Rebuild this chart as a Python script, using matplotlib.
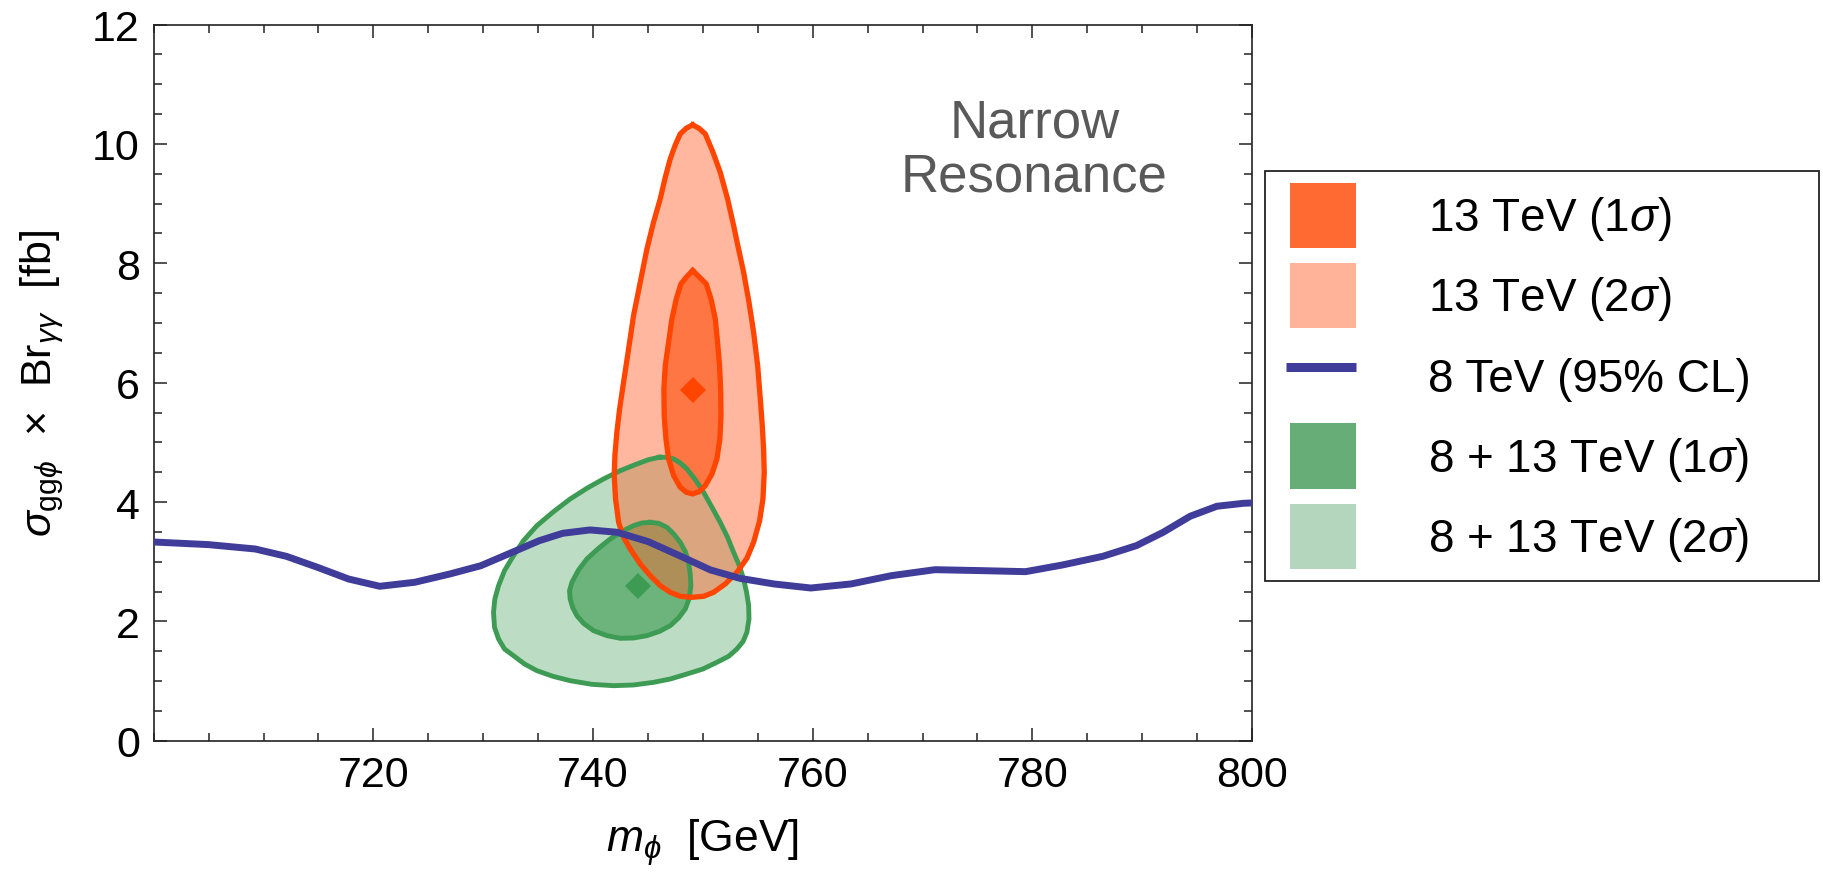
import matplotlib
matplotlib.use("Agg")
import matplotlib.pyplot as plt
from matplotlib.patches import Patch
from matplotlib.lines import Line2D
from matplotlib.legend_handler import HandlerPatch, HandlerLine2D
from matplotlib.ticker import MultipleLocator

plt.rcParams['font.family'] = ['Liberation Sans', 'DejaVu Sans']
plt.rcParams['mathtext.fontset'] = 'custom'
plt.rcParams['mathtext.rm'] = 'Liberation Sans'
plt.rcParams['mathtext.it'] = 'Liberation Sans:italic'
plt.rcParams['mathtext.bf'] = 'Liberation Sans:bold'

# 8 TeV 95% CL limit
lim_m = [700.0, 704.99, 709.24, 712.08, 714.91, 717.74, 720.58, 723.77, 726.96, 729.79,
         732.28, 735.11, 737.24, 739.72, 742.20, 745.03, 747.87, 750.70, 753.40, 756.47,
         759.83, 763.49, 767.16, 771.13, 775.41, 779.38, 782.74, 786.41, 789.47, 791.91,
         794.36, 796.80, 799.25, 800.0]
lim_s = [3.33, 3.286, 3.213, 3.090, 2.906, 2.710, 2.588, 2.655, 2.794, 2.933,
         3.129, 3.352, 3.476, 3.532, 3.493, 3.336, 3.101, 2.861, 2.72, 2.627,
         2.559, 2.627, 2.766, 2.866, 2.850, 2.833, 2.945, 3.090, 3.269, 3.493,
         3.761, 3.929, 3.979, 3.984]

# 13 TeV contours
o2_m = [749.07, 748.49, 747.94, 747.49, 747.03, 746.58, 746.12, 745.51, 744.91, 744.30,
        743.69, 743.24, 742.78, 742.42, 742.17, 741.99, 741.93, 742.05, 742.33, 742.78,
        743.39, 744.30, 745.21, 746.12, 747.03, 747.94, 749.00, 750.07, 750.98, 752.04,
        753.10, 754.01, 754.62, 755.17, 755.47, 755.59, 755.53, 755.41, 755.23, 754.99,
        754.62, 754.20, 753.71, 753.25, 752.80, 752.25, 751.58, 750.92, 750.22, 749.64]
o2_s = [10.320, 10.264, 10.169, 9.985, 9.750, 9.443, 9.080, 8.689, 8.242, 7.683,
        7.124, 6.566, 6.007, 5.560, 5.169, 4.778, 4.443, 4.051, 3.660, 3.409,
        3.213, 2.962, 2.766, 2.599, 2.487, 2.420, 2.403, 2.420, 2.487, 2.627,
        2.822, 3.057, 3.325, 3.688, 4.051, 4.498, 4.889, 5.281, 5.728, 6.286,
        6.845, 7.348, 7.851, 8.242, 8.633, 9.080, 9.527, 9.862, 10.169, 10.264]
o1_m = [749.07, 748.49, 748.00, 747.58, 747.18, 746.88, 746.58, 746.45, 746.48, 746.64,
        746.88, 747.34, 747.94, 748.49, 749.07, 749.67, 750.22, 750.83, 751.28, 751.55,
        751.65, 751.62, 751.52, 751.34, 751.13, 750.74, 750.31, 749.70]
o1_s = [7.879, 7.767, 7.655, 7.404, 7.069, 6.677, 6.286, 5.895, 5.448, 5.057,
        4.722, 4.443, 4.247, 4.163, 4.135, 4.174, 4.275, 4.471, 4.722, 5.057,
        5.448, 5.895, 6.286, 6.677, 7.069, 7.404, 7.655, 7.767]
o_best = (749.06, 5.87)

# 8 + 13 TeV contours
g2_m = [746.03, 745.06, 744.00, 742.48, 740.96, 739.44, 737.92, 736.41, 734.89, 733.67,
        732.76, 731.94, 731.40, 731.06, 730.94, 731.03, 731.40, 731.94, 732.76, 733.76,
        734.89, 736.35, 737.92, 739.90, 741.87, 743.69, 745.51, 747.03, 748.55, 750.01,
        751.28, 752.34, 753.10, 753.65, 754.01, 754.20, 754.17, 753.98, 753.71, 753.32,
        752.80, 752.25, 751.58, 750.83, 750.07, 749.31, 748.55, 747.94, 747.34, 746.73]
g2_s = [4.750, 4.710, 4.638, 4.526, 4.387, 4.230, 4.051, 3.839, 3.604, 3.353,
        3.101, 2.850, 2.599, 2.375, 2.152, 1.900, 1.705, 1.537, 1.425, 1.286,
        1.174, 1.079, 1.006, 0.945, 0.922, 0.934, 0.978, 1.034, 1.118, 1.202,
        1.314, 1.414, 1.537, 1.660, 1.816, 2.040, 2.263, 2.487, 2.710, 2.934,
        3.157, 3.409, 3.660, 3.912, 4.163, 4.375, 4.554, 4.655, 4.722, 4.750]
g1_m = [745.21, 744.45, 743.69, 742.63, 741.57, 740.50, 739.44, 738.68, 738.08, 737.86,
        737.92, 738.14, 738.53, 739.14, 740.05, 741.26, 742.48, 743.69, 744.91, 746.06,
        747.03, 747.79, 748.40, 748.76, 748.91, 748.85, 748.70, 748.40, 747.94, 747.34,
        746.73, 745.97]
g1_s = [3.660, 3.649, 3.604, 3.509, 3.381, 3.224, 3.046, 2.861, 2.654, 2.515,
        2.375, 2.235, 2.096, 1.967, 1.844, 1.761, 1.716, 1.721, 1.761, 1.833,
        1.928, 2.057, 2.208, 2.386, 2.599, 2.794, 2.990, 3.169, 3.325, 3.465,
        3.576, 3.643]
g_best = (744.05, 2.60)

labels = ['13 TeV (1$\\sigma$)', '13 TeV (2$\\sigma$)', '8 TeV (95% CL)',
          '8 + 13 TeV (1$\\sigma$)', '8 + 13 TeV (2$\\sigma$)']

orange = '#FF662F'
orange_edge = '#FF4500'
green = '#3D9B53'
blue = '#403C99'

fig = plt.figure(figsize=(18.23, 8.87), dpi=100)
ax = fig.add_axes([0.0843, 0.1638, 0.6025, 0.8073])


def closed(a):
    return list(a) + [a[0]]


# fills
ax.fill(g2_m, g2_s, color=green, alpha=0.34, lw=0, zorder=1)
ax.fill(g1_m, g1_s, color=green, alpha=0.63, lw=0, zorder=1.1)
ax.fill(o2_m, o2_s, color=orange, alpha=0.46, lw=0, zorder=1.2)
ax.fill(o1_m, o1_s, color=orange, alpha=0.8, lw=0, zorder=1.3)

# edges
ax.plot(closed(g2_m), closed(g2_s), color=green, lw=3.5, solid_joinstyle='round', zorder=2)
ax.plot(closed(g1_m), closed(g1_s), color=green, lw=3.5, solid_joinstyle='round', zorder=2)
ax.plot(closed(o2_m), closed(o2_s), color=orange_edge, lw=3.8, solid_joinstyle='round', zorder=2.1)
ax.plot(closed(o1_m), closed(o1_s), color=orange_edge, lw=3.8, solid_joinstyle='round', zorder=2.1)

ax.plot(*g_best, marker='D', ms=13, color=green, mew=0, zorder=3)
ax.plot(*o_best, marker='D', ms=13, color=orange_edge, mew=0, zorder=3)

ax.plot(lim_m, lim_s, color=blue, lw=5, solid_capstyle='butt', solid_joinstyle='round', zorder=4)

ax.text(780.2, 9.9, 'Narrow\nResonance', ha='center', va='center', multialignment='center',
        fontsize=38, color='#595959', linespacing=1.1)

ax.set_xlim(700, 800)
ax.set_ylim(0, 12)
ax.set_xticks([720, 740, 760, 780, 800])
ax.xaxis.set_minor_locator(MultipleLocator(5))
ax.set_yticks(range(0, 13, 2))
ax.yaxis.set_minor_locator(MultipleLocator(0.5))
ax.tick_params(which='both', direction='in', top=True, right=True, width=1.1, color='#222222')
ax.tick_params(which='major', length=9.5, labelsize=31)
ax.tick_params(which='minor', length=5.5)
ax.tick_params(axis='x', which='major', pad=10)
ax.tick_params(axis='y', which='major', pad=10)
for s in ax.spines.values():
    s.set_linewidth(1.2)
    s.set_color('#222222')

ax.set_xlabel(r'$m_{\phi}$  [GeV]', fontsize=32)
ax.xaxis.set_label_coords(0.5, -0.105)
ax.set_ylabel(r'$\sigma_{\mathrm{gg}\phi}$  ×  Br$_{\gamma\gamma}$  [fb]', fontsize=31)
ax.yaxis.set_label_coords(-0.08, 0.5)

handles = [Patch(facecolor='#FF6A33', edgecolor='none'),
           Patch(facecolor='#FFB49A', edgecolor='none'),
           Line2D([], [], color=blue, lw=6.5, solid_capstyle='butt'),
           Patch(facecolor='#66AD78', edgecolor='none'),
           Patch(facecolor='#B3D6BD', edgecolor='none')]
leg = fig.legend(handles, labels, loc='upper left',
                 bbox_to_anchor=(0.694, 0.806, 0.3038, 0.0), mode='expand',
                 handler_map={Patch: HandlerPatch(xpad=0.284),
                              Line2D: HandlerLine2D(xpad=0.2)},
                 fontsize=33, handlelength=1.725, handleheight=1.806, labelspacing=0.33,
                 handletextpad=1.57, borderpad=0.26, borderaxespad=0, fancybox=False,
                 framealpha=1, edgecolor='#222222')
leg.get_frame().set_linewidth(1.3)

fig.savefig('out.png', dpi=100)
